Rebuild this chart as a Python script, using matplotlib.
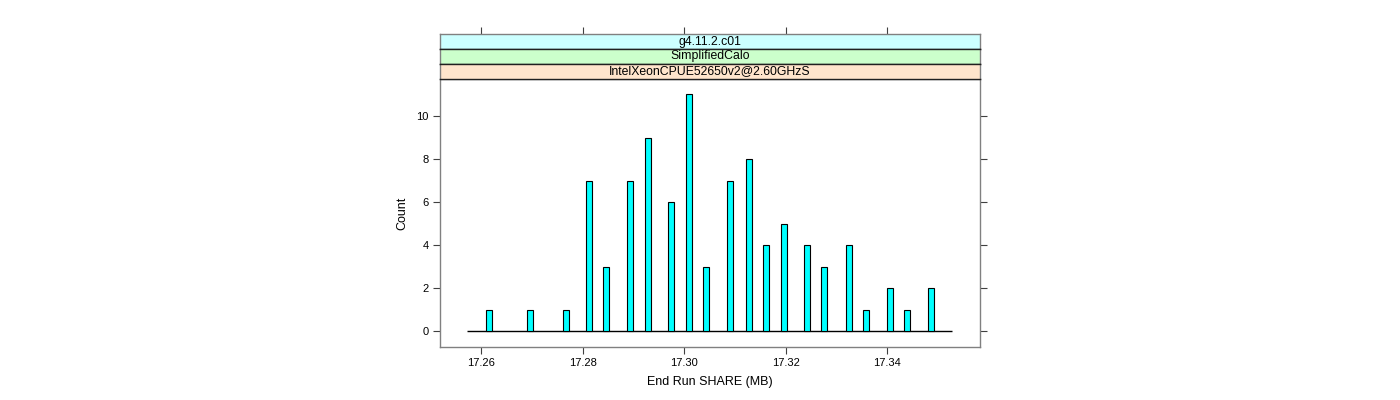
import matplotlib
matplotlib.use("Agg")
import matplotlib.pyplot as plt

plt.rcParams['font.family'] = ['Liberation Sans', 'DejaVu Sans']

# Data
bin_centers = [17.2615, 17.2697, 17.2767, 17.2813, 17.2847, 17.2893, 17.2928,
               17.2974, 17.3009, 17.3044, 17.3091, 17.3127, 17.3161, 17.3196,
               17.3242, 17.3276, 17.3324, 17.3358, 17.3405, 17.3439, 17.3486]
counts = [1, 1, 1, 7, 3, 7, 9, 6, 11, 3, 7, 8, 4, 5, 4, 3, 4, 1, 2, 1, 2]
bar_width = 0.00118
baseline_range = [17.2573, 17.3527]
x_ticks = [17.26, 17.28, 17.30, 17.32, 17.34]
x_ticklabels = ["17.26", "17.28", "17.30", "17.32", "17.34"]
y_ticks = [0, 2, 4, 6, 8, 10]
strip_labels = ["g4.11.2.c01", "SimplifiedCalo", "IntelXeonCPUE52650v2@2.60GHzS"]
strip_colors = ["#ccffff", "#ccffcc", "#ffe5cc"]
xlabel = "End Run SHARE (MB)"
ylabel = "Count"

W, H = 1400, 400
fig = plt.figure(figsize=(14, 4), dpi=100)

def fx(px):
    return px / W

def fy(py):
    return 1 - py / H

left, right = 440, 980
top, bottom = 79, 347
xlim = (17.2519, 17.3583)
ylim = (-0.74, 11.72)
border = "#808080"

ax = fig.add_axes([fx(left), fy(bottom), fx(right - left), (bottom - top) / H])
ax.bar(bin_centers, counts, width=bar_width, color="#00ffff", edgecolor="black",
       linewidth=0.8, zorder=3)
ax.hlines(0, baseline_range[0], baseline_range[1], color="black", linewidth=1, zorder=2)
ax.set_xlim(*xlim)
ax.set_ylim(*ylim)
ax.set_xticks(x_ticks)
ax.set_xticklabels(x_ticklabels)
ax.set_yticks(y_ticks)
ax.tick_params(axis='both', direction='out', length=5, width=0.8, color="#404040",
               labelsize=8, pad=3)
ax.tick_params(axis='y', right=True, labelright=False)
for s in ax.spines.values():
    s.set_color(border)
    s.set_linewidth(1)
ax.set_xlabel(xlabel, fontsize=9, labelpad=6)
ax.set_ylabel(ylabel, fontsize=9, labelpad=6)

# strips
strip_tops = [34, 49, 64]
strip_h = 15
for i, (lab, col) in enumerate(zip(strip_labels, strip_colors)):
    st = strip_tops[i]
    sax = fig.add_axes([fx(left), fy(st + strip_h), fx(right - left), strip_h / H])
    sax.set_facecolor(col)
    sax.set_xlim(*xlim)
    sax.set_ylim(0, 1)
    sax.set_yticks([])
    if i == 0:
        sax.set_xticks(x_ticks)
        sax.tick_params(axis='x', bottom=False, labelbottom=False, top=True,
                        labeltop=False, direction='out', length=5, width=0.8,
                        color="#404040")
    else:
        sax.set_xticks([])
    sax.text(0.5, 0.5, lab, transform=sax.transAxes, ha='center', va='center',
             fontsize=8.8)
    for name, s in sax.spines.items():
        s.set_linewidth(1)
        if name in ("left", "right") or (i == 0 and name == "top"):
            s.set_color(border)
        else:
            s.set_color("#202020")

fig.savefig("out.png", dpi=100)
